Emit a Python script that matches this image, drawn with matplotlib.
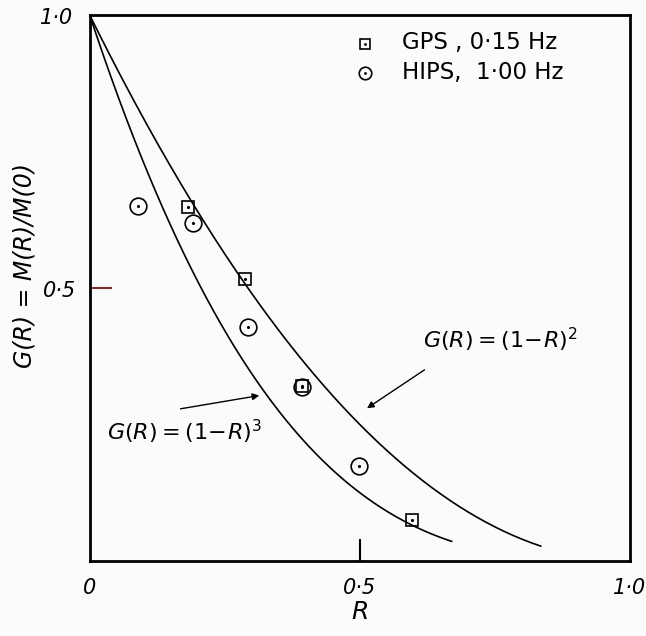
import numpy as np
import matplotlib.pyplot as plt

gps_R = [0.181, 0.287, 0.393, 0.596]
gps_G = [0.648, 0.516, 0.321, 0.075]
hips_R = [0.089, 0.191, 0.293, 0.393, 0.498]
hips_G = [0.650, 0.619, 0.429, 0.319, 0.174]

tick_pos = [0.0, 0.5, 1.0]
tick_txt = ['0', '0·5', '1·0']

plt.rcParams['font.family'] = ['DejaVu Sans']

fig = plt.figure(figsize=(6.46, 6.36), dpi=100, facecolor='#fbfbfb')
ax = fig.add_axes([0.139, 0.118, 0.836, 0.858])
ax.set_facecolor('#fbfbfb')

# model curves G(R) = (1-R)^n
r3 = np.linspace(0, 0.67, 200)
r2 = np.linspace(0, 0.835, 200)
ax.plot(r3, (1 - r3) ** 3, color='black', lw=1.2)
ax.plot(r2, (1 - r2) ** 2, color='black', lw=1.2)

# data points (open symbol with a dot in the middle)
ax.plot(gps_R, gps_G, 's', ms=8.5, mfc='none', mec='black', mew=1.2)
ax.plot(gps_R, gps_G, '.', ms=2.5, color='black')
ax.plot(hips_R, hips_G, 'o', ms=12, mfc='none', mec='black', mew=1.2)
ax.plot(hips_R, hips_G, '.', ms=2.5, color='black')

# legend drawn by hand
ax.plot([0.509], [0.948], 's', ms=7, mfc='none', mec='black', mew=1.2)
ax.plot([0.509], [0.948], '.', ms=2, color='black')
ax.plot([0.509], [0.895], 'o', ms=9, mfc='none', mec='black', mew=1.2)
ax.plot([0.509], [0.895], '.', ms=2, color='black')
ax.text(0.578, 0.950, 'GPS , 0·15 Hz', fontsize=16.5, va='center')
ax.text(0.578, 0.895, 'HIPS,  1·00 Hz', fontsize=16.5, va='center')

# curve labels with arrows
ax.text(0.76, 0.405, r'$G(R)=(1\!-\!R)^2$', fontsize=16, ha='center', va='center')
ax.annotate('', xy=(0.509, 0.277), xytext=(0.624, 0.353),
            arrowprops=dict(arrowstyle='-|>', color='black', lw=1.0))
ax.text(0.176, 0.236, r'$G(R)=(1\!-\!R)^3$', fontsize=16, ha='center', va='center')
ax.annotate('', xy=(0.319, 0.304), xytext=(0.163, 0.278),
            arrowprops=dict(arrowstyle='-|>', color='black', lw=1.0))

ax.set_xlim(0, 1.0)
ax.set_ylim(0, 1.0)
for s in ax.spines.values():
    s.set_linewidth(2.0)

ax.set_xticks([0.5])
ax.set_yticks([0.5])
ax.tick_params(axis='x', direction='in', length=16, width=1.5, labelbottom=False)
ax.tick_params(axis='y', direction='in', length=16, width=1.5, color='#7a2a2a',
               labelleft=False)

for p, t in zip(tick_pos, tick_txt):
    ax.text(p, -0.05, t, transform=ax.transAxes, fontsize=15, ha='center',
            va='center', style='italic')
ax.text(-0.062, 0.995, '1·0', transform=ax.transAxes, fontsize=15, ha='center',
        va='center', style='italic')
ax.text(-0.056, 0.495, '0·5', transform=ax.transAxes, fontsize=15, ha='center',
        va='center', style='italic')

ax.set_xlabel('R', fontsize=18, style='italic', labelpad=28)
fig.text(25 / 646, 1 - 266 / 636, 'G(R) = M(R)/M(0)', fontsize=17, style='italic',
         rotation=90, ha='center', va='center')

fig.savefig('out.png', dpi=100, facecolor=fig.get_facecolor())
